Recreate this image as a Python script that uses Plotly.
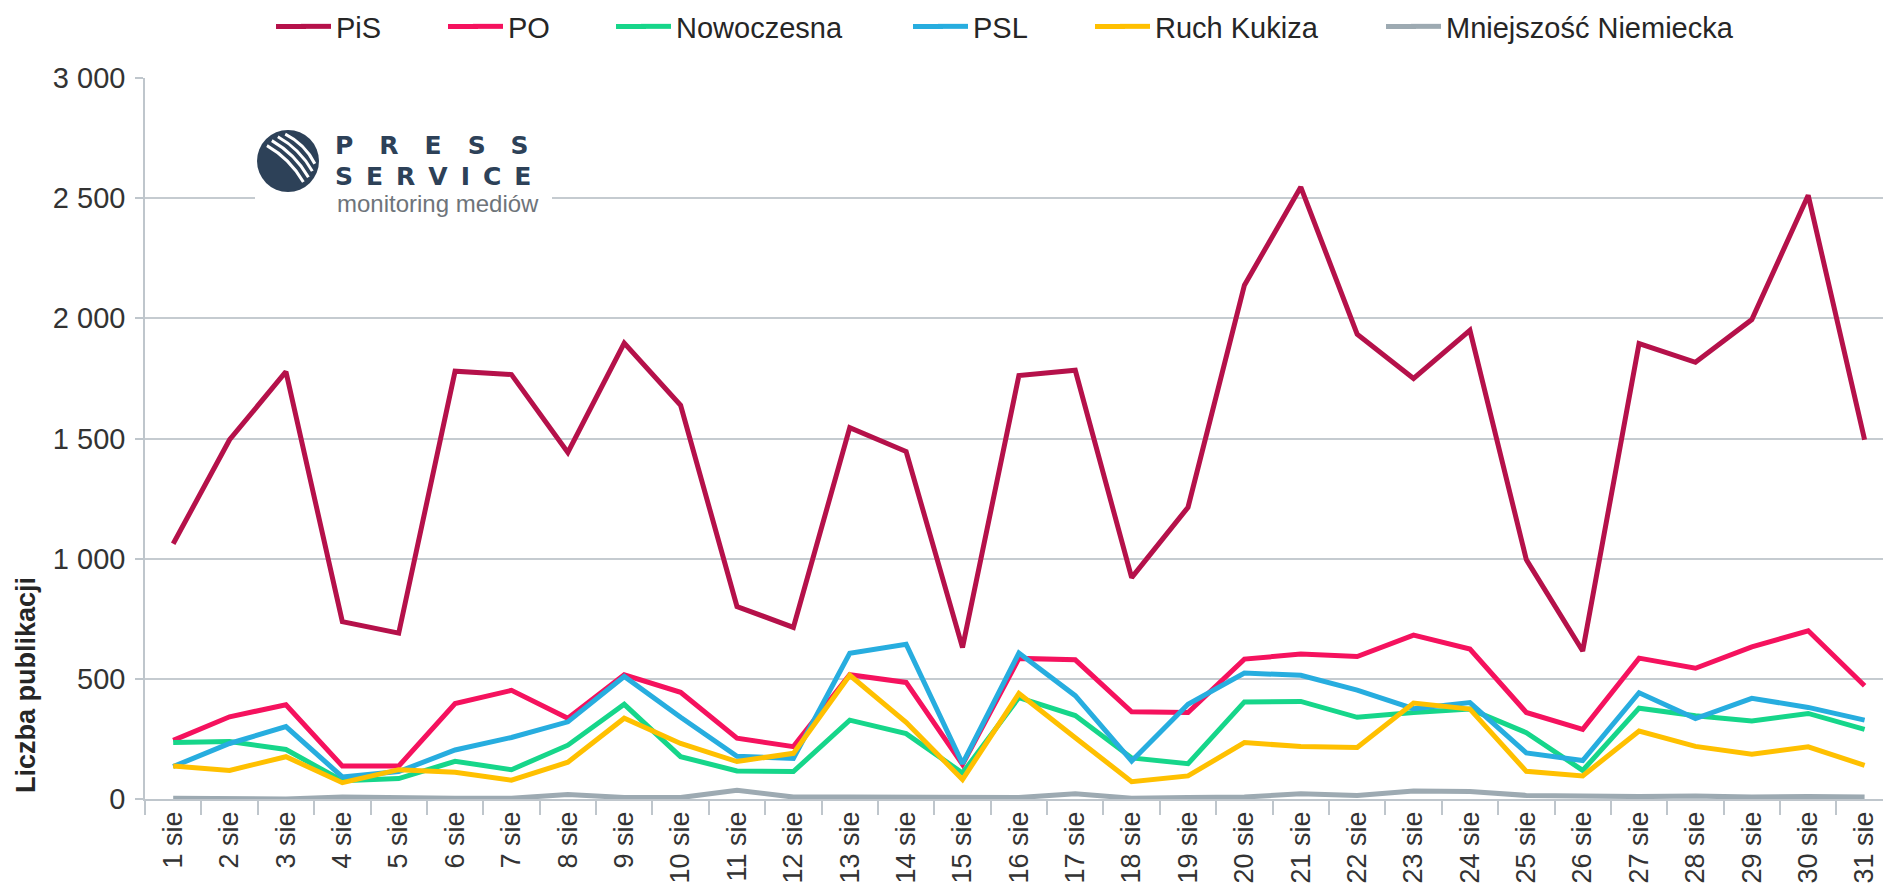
import math
import plotly.graph_objects as go

days = ["1 sie", "2 sie", "3 sie", "4 sie", "5 sie", "6 sie", "7 sie", "8 sie", "9 sie", "10 sie",
        "11 sie", "12 sie", "13 sie", "14 sie", "15 sie", "16 sie", "17 sie", "18 sie", "19 sie", "20 sie",
        "21 sie", "22 sie", "23 sie", "24 sie", "25 sie", "26 sie", "27 sie", "28 sie", "29 sie", "30 sie",
        "31 sie"]

pis = [1062, 1495, 1778, 738, 690, 1780, 1766, 1442, 1897, 1638,
       801, 714, 1545, 1446, 630, 1762, 1784, 921, 1214, 2138,
       2546, 1934, 1750, 1950, 996, 616, 1895, 1817, 1995, 2512, 1495]
po = [244, 342, 392, 137, 137, 397, 452, 336, 517, 444,
      253, 218, 517, 485, 144, 585, 579, 363, 360, 582,
      603, 593, 682, 624, 360, 290, 586, 544, 633, 700, 471]
nowoczesna = [235, 239, 206, 76, 85, 157, 122, 224, 394, 176,
              117, 114, 328, 272, 108, 422, 347, 171, 147, 404,
              406, 340, 360, 374, 276, 119, 378, 346, 325, 356, 290]
psl = [135, 231, 301, 92, 114, 204, 256, 321, 510, 340,
       178, 169, 606, 644, 147, 607, 430, 158, 394, 524,
       515, 453, 376, 401, 192, 160, 442, 335, 419, 381, 328]
kukiza = [137, 119, 176, 68, 122, 111, 78, 153, 336, 231,
          156, 190, 515, 319, 81, 439, 255, 72, 96, 235,
          218, 214, 399, 374, 115, 96, 283, 219, 186, 217, 140]
mniejszosc = [3, 3, 0, 8, 3, 3, 3, 19, 6, 6,
              36, 8, 8, 6, 3, 6, 22, 3, 6, 8,
              22, 15, 33, 31, 15, 10, 10, 12, 8, 10, 8]

series_names = ["PiS", "PO", "Nowoczesna", "PSL", "Ruch Kukiza", "Mniejszość Niemiecka"]
series_values = [pis, po, nowoczesna, psl, kukiza, mniejszosc]
series_colors = ["#B5114A", "#F5125E", "#16D68A", "#27ADDF", "#FFC000", "#9DAAB2"]
legend_widths = [127, 123, 252, 137, 246, 295]
legend_text_x = [336, 508, 676, 973, 1155, 1446]   # where each legend label starts (px)

y_tickvals = [0, 500, 1000, 1500, 2000, 2500, 3000]
y_ticktext = ["0", "500", "1 000", "1 500", "2 000", "2 500", "3 000"]

IMG_W, IMG_H = 1883, 886
ML, MR, MT, MB = 145, 0, 78, 87
PW = IMG_W - ML - MR
PH = IMG_H - MT - MB
CAT_STEP = 56.38
LEGEND_Y = 26.5


def fx(px):
    return (px - ML) / PW


def fy(py):
    return (IMG_H - MB - py) / PH


fig = go.Figure()
for name, vals, col, lw in zip(series_names, series_values, series_colors, legend_widths):
    fig.add_trace(go.Scatter(
        x=days, y=vals, name=name, mode="lines",
        line=dict(color=col, width=5),
        legendwidth=lw,
        hoverinfo="x+y+name",
    ))

font_family = "Liberation Sans, Arial, sans-serif"

fig.update_layout(
    width=IMG_W, height=IMG_H,
    margin=dict(l=ML, r=MR, t=MT, b=MB, autoexpand=False),
    paper_bgcolor="white", plot_bgcolor="white",
    font=dict(family=font_family, size=26, color="#333333"),
    showlegend=True,
    legend=dict(
        orientation="h", xref="container", yref="container",
        x=296 / IMG_W, xanchor="left",
        y=1 - LEGEND_Y / IMG_H, yanchor="middle",
        font=dict(family=font_family, size=29, color="#262626"),
        bgcolor="rgba(0,0,0,0)", borderwidth=0,
        traceorder="normal",
    ),
    xaxis=dict(
        type="category", range=[-0.5, -0.5 + PW / CAT_STEP],
        tickson="boundaries", ticks="outside", ticklen=14, tickwidth=1.5,
        tickcolor="#BFC6CC", showline=True, linecolor="#BFC6CC", linewidth=1.5,
        showgrid=False, tickangle=-90, tickfont=dict(size=27, color="#333333"),
        fixedrange=True,
    ),
    yaxis=dict(
        range=[0, 3000], tickvals=y_tickvals, ticktext=y_ticktext,
        ticks="outside", ticklen=8, tickwidth=1.5, tickcolor="#BFC6CC",
        showline=True, linecolor="#BFC6CC", linewidth=1.5,
        showgrid=True, gridcolor="#C5CBD0", gridwidth=1.5,
        zeroline=False, tickfont=dict(size=29, color="#333333"),
        ticklabelstandoff=4, fixedrange=True,
    ),
)

# y-axis title (placed low, like the original)
fig.add_annotation(
    text="<b>Liczba publikacji</b>", xref="paper", yref="paper",
    x=fx(26), y=fy(685), xanchor="center", yanchor="middle",
    textangle=-90, showarrow=False,
    font=dict(family=font_family, size=27, color="#262626"),
)

shapes = []
# longer legend line samples (extend the native ones to the left)
for tx, col in zip(legend_text_x, series_colors):
    shapes.append(dict(type="line", xref="paper", yref="paper",
                       x0=fx(tx - 60), x1=fx(tx - 30), y0=fy(LEGEND_Y), y1=fy(LEGEND_Y),
                       line=dict(color=col, width=5), layer="above"))

# ---- logo: PRESS SERVICE monitoring mediów ----
shapes.append(dict(type="rect", xref="paper", yref="paper",
                   x0=fx(255), x1=fx(552), y0=fy(215), y1=fy(122),
                   fillcolor="white", line=dict(width=0), layer="above"))
cx, cy, r = 288, 161, 31
shapes.append(dict(type="circle", xref="paper", yref="paper",
                   x0=fx(cx - r), x1=fx(cx + r), y0=fy(cy + r), y1=fy(cy - r),
                   fillcolor="#2D4158", line=dict(width=0), layer="above"))
ux, uy = 0.707, -0.707   # perpendicular (up-right on screen)
dx, dy = 0.707, 0.707    # stripe direction (down-right on screen)
for s in [-4, 3, 10, 17]:
    half = math.sqrt(max(r * r - s * s, 0)) - 5
    p0 = (cx + s * ux - half * dx, cy + s * uy - half * dy)
    p1 = (cx + (s + 7) * ux, cy + (s + 7) * uy)
    p2 = (cx + s * ux + half * dx, cy + s * uy + half * dy)
    path = "M {:.5f},{:.5f} Q {:.5f},{:.5f} {:.5f},{:.5f}".format(
        fx(p0[0]), fy(p0[1]), fx(p1[0]), fy(p1[1]), fx(p2[0]), fy(p2[1]))
    shapes.append(dict(type="path", xref="paper", yref="paper", path=path,
                       line=dict(color="white", width=3), layer="above"))
fig.update_layout(shapes=shapes)

fig.add_annotation(
    text='<span style="letter-spacing:26px">PRESS</span>', xref="paper", yref="paper",
    x=fx(333), y=fy(146), xanchor="left", yanchor="middle", showarrow=False,
    font=dict(family="DejaVu Sans", size=25, color="#2D4158", weight="bold"),
)
fig.add_annotation(
    text='<span style="letter-spacing:13px">SERVICE</span>', xref="paper", yref="paper",
    x=fx(333), y=fy(176), xanchor="left", yanchor="middle", showarrow=False,
    font=dict(family="DejaVu Sans", size=25, color="#2D4158", weight="bold"),
)
fig.add_annotation(
    text="monitoring mediów", xref="paper", yref="paper",
    x=fx(438), y=fy(203), xanchor="center", yanchor="middle", showarrow=False,
    font=dict(family=font_family, size=24, color="#6E747A"),
)

fig.write_html(
    "out.html",
    config={"displayModeBar": False},
    post_script="document.body.style.margin='0';document.body.style.overflow='hidden';",
)
